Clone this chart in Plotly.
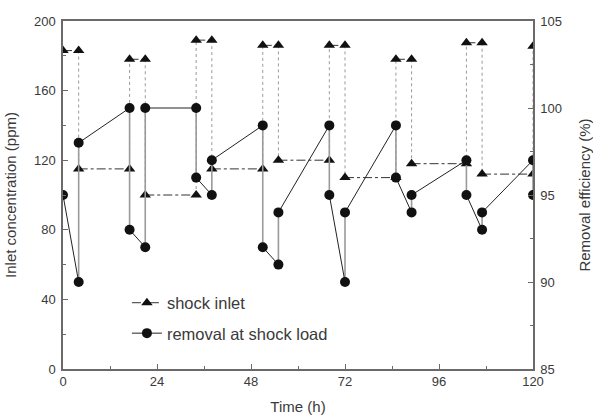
import plotly.graph_objects as go

# Data
time_h = [0, 4, 4, 17, 17, 21, 21, 34, 34, 38, 38, 51, 51, 55, 55,
          68, 68, 72, 72, 85, 85, 89, 89, 103, 103, 107, 107, 120, 120]
shock_inlet_ppm = [183, 183, 115, 115, 178, 178, 100, 100, 189, 189, 115, 115,
                   186, 186, 120, 120, 186, 186, 110, 110, 178, 178, 118, 118,
                   187.5, 187.5, 112, 112, 185.5]
removal_pct = [95, 90, 98, 100, 93, 92, 100, 100, 96, 95, 97, 99, 92, 91, 94,
               99, 95, 90, 94, 99, 96, 94, 95, 97, 95, 93, 94, 97, 95]

x_ticks = [0, 24, 48, 72, 96, 120]
y_left_ticks = [0, 40, 80, 120, 160, 200]
y_right_ticks = [85, 90, 95, 100, 105]


def split_segments(xs, ys):
    """Return (connected-within-step, vertical-jump) paths with None separators."""
    hx, hy, vx, vy = [], [], [], []
    n = len(xs)
    for i in range(n - 1):
        if i % 2 == 0:
            hx += [xs[i], xs[i + 1], None]
            hy += [ys[i], ys[i + 1], None]
        else:
            vx += [xs[i], xs[i + 1], None]
            vy += [ys[i], ys[i + 1], None]
    hx += [xs[-1]]
    hy += [ys[-1]]
    return hx, hy, vx, vy


fig = go.Figure()
ink = "#111111"
font_family = "Liberation Sans, Arial, sans-serif"
text_col = "#3a3a3a"

shx, shy, svx, svy = split_segments(time_h, shock_inlet_ppm)
rhx, rhy, rvx, rvy = split_segments(time_h, removal_pct)

# vertical jumps of shock inlet (light dotted)
fig.add_trace(go.Scatter(x=svx, y=svy, mode="lines", showlegend=False,
                         line=dict(color="#9a9a9a", width=1, dash="dot"),
                         hoverinfo="skip"))
# vertical jumps of removal (grey solid)
fig.add_trace(go.Scatter(x=rvx, y=rvy, mode="lines", showlegend=False, yaxis="y2",
                         line=dict(color="#9a9a9a", width=1.6),
                         hoverinfo="skip"))

fig.add_trace(go.Scatter(x=shx, y=shy, mode="lines+markers", name="shock inlet",
                         legendgroup="a",
                         line=dict(color="#333333", width=1, dash="dashdot"),
                         marker=dict(symbol="triangle-up", size=10, color=ink)))
fig.add_trace(go.Scatter(x=rhx, y=rhy, mode="lines+markers", name="removal at shock load",
                         legendgroup="b", yaxis="y2",
                         line=dict(color="#222222", width=1),
                         marker=dict(symbol="circle", size=10, color=ink)))

axis_common = dict(showline=True, linecolor="#6a6a6a", linewidth=1.5,
                   ticks="inside", ticklen=5, tickcolor="#6a6a6a", tickwidth=1,
                   showgrid=False, zeroline=False,
                   automargin=False,
                   tickfont=dict(size=13, color=text_col, family=font_family),
                   title_font=dict(size=15, color=text_col, family=font_family))

fig.update_layout(
    width=593, height=417,
    margin=dict(l=63, r=60, t=21, b=48),
    paper_bgcolor="white", plot_bgcolor="white",
    font=dict(family=font_family, color=text_col),
    xaxis=dict(range=[0, 120], tickvals=x_ticks, mirror=True, ticklabelstandoff=0,
               minor=dict(ticks="inside", ticklen=3, dtick=12, tickcolor="#6a6a6a"),
               title=dict(text="Time (h)", standoff=13), **axis_common),
    yaxis=dict(range=[0, 200], tickvals=y_left_ticks, ticklabelstandoff=3,
               minor=dict(ticks="inside", ticklen=3, dtick=20, tickcolor="#6a6a6a"),
               title=dict(text="Inlet concentration (ppm)", standoff=14), **axis_common),
    yaxis2=dict(range=[85, 105], tickvals=y_right_ticks, overlaying="y", side="right",
                ticklabelstandoff=3,
                minor=dict(ticks="inside", ticklen=3, dtick=2.5, tickcolor="#6a6a6a"),
                title=dict(text="Removal efficiency (%)", standoff=18), **axis_common),
    legend=dict(x=0.136, y=0.24, xanchor="left", yanchor="top",
                bgcolor="rgba(0,0,0,0)", tracegroupgap=6,
                font=dict(size=16.5, color=text_col, family=font_family)),
)

fig.write_html("out.html")
